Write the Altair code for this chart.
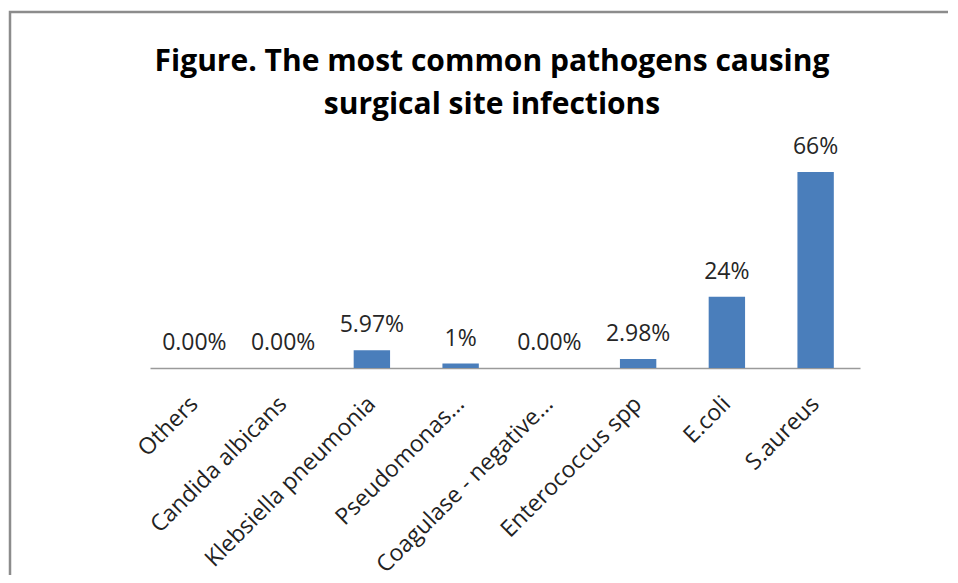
import altair as alt
import pandas as pd

categories = ["Others", "Candida albicans", "Klebsiella pneumonia", "Pseudomonas...",
              "Coagulase - negative...", "Enterococcus spp", "E.coli", "S.aureus"]
values = [0.0, 0.0, 5.97, 1.49, 0.0, 2.98, 23.88, 65.67]
value_labels = ["0.00%", "0.00%", "5.97%", "1%", "0.00%", "2.98%", "24%", "66%"]
title_lines = ["Figure. The most common pathogens causing", "surgical site infections"]

df = pd.DataFrame({"cat": categories, "val": values, "lab": value_labels})

FONT = "Open Sans"

x_enc = alt.X("cat:N", sort=categories, title=None,
              scale=alt.Scale(paddingInner=0.59, paddingOuter=0.295),
              axis=alt.Axis(labelAngle=-45, labelAlign="right", labelBaseline="middle",
                            labelFontSize=23, labelFont=FONT, labelColor="#222222",
                            labelPadding=32, ticks=False, domainColor="#9a9a9a",
                            domainWidth=1.5, labelLimit=400))
y_enc = alt.Y("val:Q", scale=alt.Scale(domain=[0, 70], nice=False), axis=None)

base = alt.Chart(df)

bars = base.mark_bar(color="#4a7ebb").encode(x=x_enc, y=y_enc)

text = base.mark_text(baseline="bottom", dy=-13, fontSize=23, font=FONT,
                      color="#262626").encode(x=x_enc, y=y_enc, text="lab:N")

frame = alt.Chart(alt.Data(values=[{"k": 1}])).mark_rect(
    fill=None, stroke="#8c8c8c", strokeWidth=2.5
).encode(x=alt.value(-140), x2=alt.value(801), y=alt.value(-147), y2=alt.value(460))

chart = alt.layer(frame, bars, text).properties(
    width=710, height=209,
    title=alt.TitleParams(title_lines, fontSize=30, font=FONT, fontWeight="bold",
                          color="#000000", anchor="middle", frame="group", dx=-13,
                          offset=-109, lineHeight=43),
    autosize=alt.AutoSizeParams(type="none"),
    padding={"left": 142, "top": 151, "right": 88, "bottom": 207},
).configure_view(strokeWidth=0)

chart.save("out.html", embed_options={"renderer": "svg", "actions": False})
